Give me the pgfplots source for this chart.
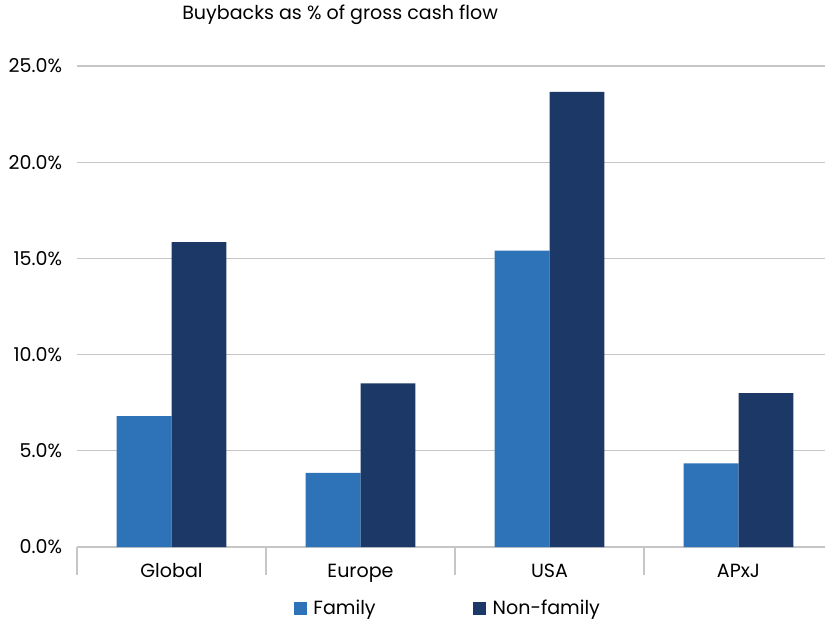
\documentclass[border=0pt]{standalone}
\usepackage{pgfplots}
\pgfplotsset{compat=1.18}
\usepackage{fontspec}
\setmainfont{Poppins}
\definecolor{famblue}{HTML}{2E72B8}
\definecolor{nonfam}{HTML}{1B3867}
\definecolor{gridgray}{HTML}{C6C6C6}
\begin{document}
\begin{tikzpicture}
\begin{axis}[
  scale only axis,
  width=567pt, height=360.75pt,
  ybar=0pt, bar width=0.29,
  xmin=-0.5, xmax=3.5, ymin=0, ymax=25,
  xtick={0,1,2,3},
  xticklabels={Global,Europe,USA,APxJ},
  xtick pos=left,
  major tick length=0pt,
  extra x ticks={-0.5,0.5,1.5,2.5,3.5},
  extra x tick labels={},
  extra x tick style={major tick length=21pt, tick align=outside, grid=none,
    tick style={draw=gridgray, line width=1.2pt}},
  ytick={0,5,10,15,20,25},
  ymajorgrids, grid style={draw=gridgray, line width=1pt},
  axis line style={draw=none},
  ytick style={draw=none},
  yticklabel={\pgfmathprintnumber[fixed,fixed zerofill,precision=1]{\tick}\%},
  /pgf/number format/assume math mode=true,
  tick label style={font=\fontsize{14.3}{16}\selectfont, text=black},
  yticklabel style={anchor=east, inner sep=0pt, xshift=-11pt},
  xticklabel style={anchor=base, inner sep=0pt, yshift=-23pt},
  title={Buybacks as \% of gross cash flow},
  title style={at={(0.348,1)}, anchor=base, yshift=29pt, inner sep=0pt, font=\fontsize{14.3}{16}\selectfont},
  legend style={at={(0.491,-0.127)}, anchor=center, draw=none, fill=none,
    legend columns=2, font=\fontsize{14.3}{16}\selectfont,
    /tikz/every odd column/.append style={column sep=3pt},
    /tikz/every even column/.append style={column sep=71pt}},
  legend image code/.code={\fill[#1] (0pt,-4.9pt) rectangle (9.75pt,4.9pt);},
]
\addplot[fill=famblue, draw=none] coordinates {(0,6.8) (1,3.85) (2,15.4) (3,4.35)};
\addplot[fill=nonfam, draw=none] coordinates {(0,15.85) (1,8.5) (2,23.65) (3,8.0)};
\legend{Family,Non-family}
\end{axis}
\pgfresetboundingbox
\path[use as bounding box] ([shift={(-57.75pt,-56.25pt)}]current axis.south west) rectangle ([shift={(561pt,410.25pt)}]current axis.south west);
\end{tikzpicture}
\end{document}
